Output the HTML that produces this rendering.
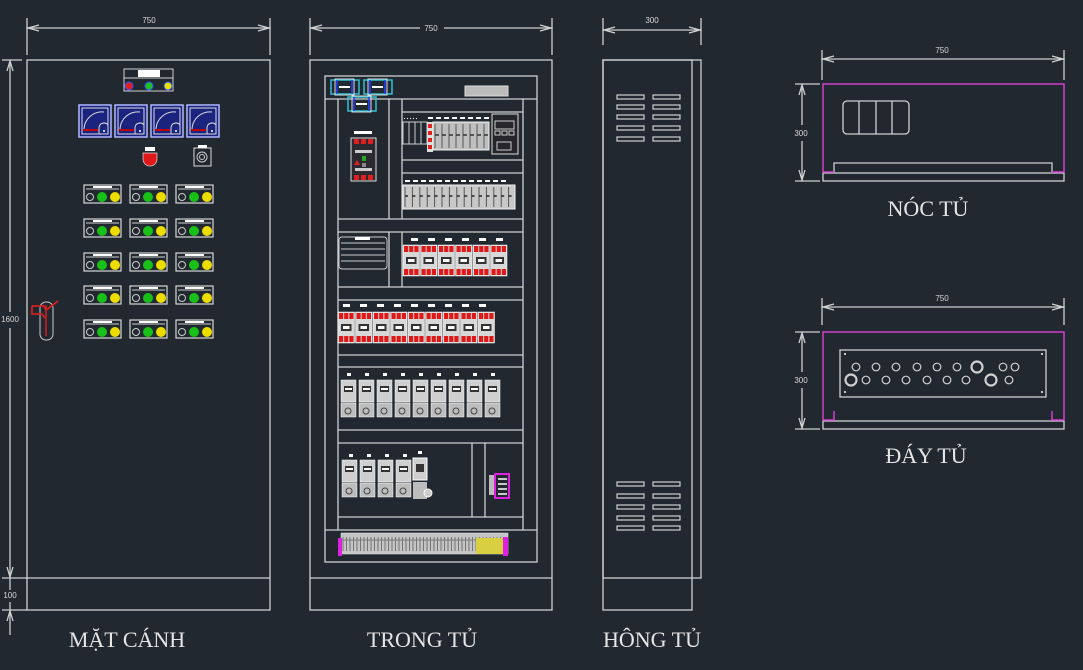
<!DOCTYPE html>
<html><head><meta charset="utf-8">
<style>
html,body{margin:0;padding:0;background:#212830;}
svg{display:block}
text{font-family:"Liberation Sans",sans-serif;fill:#d8d8d8}
.lbl{font-family:"Liberation Serif","DejaVu Serif",serif;font-size:22px;fill:#e6e6e6}
</style></head>
<body>
<svg id="s" width="1083" height="670" viewBox="0 0 1083 670" xmlns="http://www.w3.org/2000/svg">
<rect width="1083" height="670" fill="#212830"/>
<g fill="none" stroke="#d0d0d0" stroke-width="1.3">
<!-- front -->
<rect x="27" y="60" width="243" height="550"/>
<line x1="27" y1="578" x2="270" y2="578"/>
<line x1="27" y1="18" x2="27" y2="55"/><line x1="270" y1="18" x2="270" y2="55"/>
<line x1="27" y1="28" x2="270" y2="28"/>
<polyline points="39,25 28,28 39,31"/><polyline points="258,25 269,28 258,31"/>
<line x1="10" y1="60" x2="10" y2="312"/><line x1="10" y1="328" x2="10" y2="590"/>
<line x1="10" y1="602" x2="10" y2="635"/>
<line x1="2" y1="60" x2="22" y2="60"/><line x1="2" y1="578" x2="27" y2="578"/><line x1="2" y1="610" x2="27" y2="610"/>
<polyline points="7,71 10,61 13,71"/><polyline points="7,567 10,577 13,567"/><polyline points="7,621 10,611 13,621"/>
<!-- inside -->
<rect x="310" y="60" width="242" height="550"/>
<line x1="310" y1="578" x2="552" y2="578"/>
<line x1="310" y1="18" x2="310" y2="55"/><line x1="552" y1="18" x2="552" y2="55"/>
<line x1="310" y1="28" x2="420" y2="28"/><line x1="444" y1="28" x2="552" y2="28"/>
<polyline points="322,25 311,28 322,31"/><polyline points="540,25 551,28 540,31"/>
<rect x="325" y="76" width="212" height="486"/>
<line x1="325" y1="99" x2="537" y2="99"/>
<line x1="338" y1="99" x2="338" y2="530"/><line x1="523" y1="99" x2="523" y2="530"/>
<line x1="325" y1="530" x2="537" y2="530"/>
<line x1="389" y1="99" x2="389" y2="219"/><line x1="402" y1="99" x2="402" y2="219"/>
<line x1="402" y1="112" x2="523" y2="112"/><line x1="402" y1="160" x2="523" y2="160"/><line x1="402" y1="173" x2="523" y2="173"/>
<line x1="338" y1="219" x2="523" y2="219"/><line x1="338" y1="232" x2="523" y2="232"/>
<line x1="389" y1="232" x2="389" y2="287"/><line x1="402" y1="232" x2="402" y2="287"/>
<line x1="338" y1="287" x2="523" y2="287"/><line x1="338" y1="300" x2="523" y2="300"/>
<line x1="338" y1="355" x2="523" y2="355"/><line x1="338" y1="367" x2="523" y2="367"/>
<line x1="338" y1="430" x2="523" y2="430"/><line x1="338" y1="443" x2="523" y2="443"/>
<line x1="472" y1="443" x2="472" y2="517"/><line x1="485" y1="443" x2="485" y2="517"/>
<line x1="338" y1="517" x2="523" y2="517"/>
<!-- side -->
<rect x="603" y="60" width="98" height="518"/>
<rect x="603" y="60" width="89" height="550"/>
<line x1="603" y1="18" x2="603" y2="45"/><line x1="701" y1="18" x2="701" y2="45"/>
<line x1="603" y1="30" x2="701" y2="30"/>
<polyline points="615,27 604,30 615,33"/><polyline points="689,27 700,30 689,33"/>
<!-- top view -->
<line x1="822" y1="50" x2="822" y2="80"/><line x1="1064" y1="50" x2="1064" y2="80"/>
<line x1="822" y1="59" x2="1064" y2="59"/>
<polyline points="834,56 823,59 834,62"/><polyline points="1052,56 1063,59 1052,62"/>
<line x1="795" y1="84" x2="820" y2="84"/><line x1="795" y1="181" x2="820" y2="181"/>
<line x1="802" y1="84" x2="802" y2="125"/><line x1="802" y1="141" x2="802" y2="181"/>
<polyline points="799,95 802,85 805,95"/><polyline points="799,170 802,180 805,170"/>
<polyline points="834,172 834,163 1052,163 1052,172"/>
<rect x="823" y="173" width="241" height="8"/>
<rect x="843" y="101" width="66" height="33" rx="4"/>
<line x1="859" y1="101" x2="859" y2="134"/><line x1="876" y1="101" x2="876" y2="134"/><line x1="892" y1="101" x2="892" y2="134"/>
<!-- bottom view -->
<line x1="822" y1="298" x2="822" y2="325"/><line x1="1064" y1="298" x2="1064" y2="325"/>
<line x1="822" y1="307" x2="1064" y2="307"/>
<polyline points="834,304 823,307 834,310"/><polyline points="1052,304 1063,307 1052,310"/>
<line x1="795" y1="332" x2="820" y2="332"/><line x1="795" y1="429" x2="820" y2="429"/>
<line x1="802" y1="332" x2="802" y2="372"/><line x1="802" y1="388" x2="802" y2="429"/>
<polyline points="799,343 802,333 805,343"/><polyline points="799,418 802,428 805,418"/>
<rect x="823" y="421" width="241" height="8"/>
<rect x="840" y="350" width="206" height="47"/>
</g>
<g fill="none" stroke="#d040d0" stroke-width="1.5">
<polyline points="823,172 823,84 1064,84 1064,172"/>
<polyline points="823,172 834,172"/><polyline points="1052,172 1064,172"/>
<polyline points="823,420 823,332 1064,332 1064,420"/>
<polyline points="823,420 834,420 834,411"/><polyline points="1052,411 1052,420 1064,420"/>
</g>
<g id="gen"></g>
<text x="149" y="23" font-size="8" text-anchor="middle">750</text>
<text x="431" y="31" font-size="8" text-anchor="middle">750</text>
<text x="652" y="23" font-size="8" text-anchor="middle">300</text>
<text x="942" y="53" font-size="8" text-anchor="middle">750</text>
<text x="942" y="301" font-size="8" text-anchor="middle">750</text>
<text x="801" y="136" font-size="8" text-anchor="middle">300</text>
<text x="801" y="383" font-size="8" text-anchor="middle">300</text>
<text x="10" y="322" font-size="8" text-anchor="middle">1600</text>
<text x="10" y="598" font-size="8" text-anchor="middle">100</text>
<text class="lbl" x="127" y="647" text-anchor="middle">MẶT CÁNH</text>
<text class="lbl" x="422" y="647" text-anchor="middle">TRONG TỦ</text>
<text class="lbl" x="652" y="647" text-anchor="middle">HÔNG TỦ</text>
<text class="lbl" x="928" y="216" text-anchor="middle">NÓC TỦ</text>
<text class="lbl" x="926" y="463" text-anchor="middle">ĐÁY TỦ</text>
</svg>
<script>
var g=document.getElementById('gen'),h='';
function r(x,y,w,hh,f,s,sw,rx){h+='<rect x="'+x+'" y="'+y+'" width="'+w+'" height="'+hh+'" fill="'+(f||'none')+'" stroke="'+(s||'none')+'" stroke-width="'+(sw||1)+'"'+(rx?' rx="'+rx+'"':'')+'/>';}
function c(x,y,rr,f,s,sw){h+='<circle cx="'+x+'" cy="'+y+'" r="'+rr+'" fill="'+(f||'none')+'" stroke="'+(s||'none')+'" stroke-width="'+(sw||1)+'"/>';}
function l(a,b,cc,d,s,sw){h+='<line x1="'+a+'" y1="'+b+'" x2="'+cc+'" y2="'+d+'" stroke="'+(s||'#d0d0d0')+'" stroke-width="'+(sw||1)+'"/>';}
// front top indicator
r(124,69,49,22,'none','#d0d0d0',1);r(138,70,22,7,'#fff');l(124,78,173,78);
c(129,86,4,'#e02020','#3050ff');c(149,86,4,'#20c020','#3050ff');c(168,86,4,'#e8e000','#3050ff');
// meters
[79,115,151,187].forEach(function(x){r(x,105,32,32,'#1a237e','#b0b8ff',1.5);r(x+3,108,26,26,'none','#ddd',1);
h+='<path d="M'+(x+5)+','+(x?130:0)+' A18,18 0 0 1 '+(x+25)+',112" fill="none" stroke="#ddd" stroke-width="1"/>';
r(x+4,129,15,2,'#c00000');h+='<path d="M'+(x+20)+',134 v-6 a5,5 0 0 1 9,-3 v9z" fill="none" stroke="#ddd"/>';c(x+25,131,1,'#fff');});
// red mushroom
r(145,147,10,4,'#fff');h+='<path d="M143,153 h14 v6 a7,7 0 0 1 -14,0z" fill="#e01818" stroke="#ddd" stroke-width="0.7"/>';
r(194,148,17,18,'none','#ddd');r(198,145,9,3,'#fff');c(202,157,5,'none','#ccc');c(202,157,2.5,'none','#ccc');
// button groups
[84,130,176].forEach(function(x){[185,219,253,286,320].forEach(function(y){
r(x,y,37,18,'none','#d8d8d8',1.2);l(x+2,y+4,x+35,y+4);r(x+9,y+1,19,2,'#fff');
c(x+6,y+12,3.5,'none','#ccc');c(x+18,y+12,5,'#18c018');c(x+31,y+12,5,'#ecdc00');});});
// door handle
r(40,302,13,38,'none','#ccc',1,6);h+='<path d="M32,306 h12 l2,4 l12,-9 M32,306 v8 h10 l3,4" fill="none" stroke="#d02020" stroke-width="1.8"/>';l(46,305,46,336,'#d02020',1.5);
// inside: top contactors
[[331,80],[364,80],[348,97]].forEach(function(p){r(p[0],p[1],28,14,'none','#30c0d0',1.5);r(p[0]+4,p[1]-1,19,16,'none','#ddd');l(p[0]+6,p[1],p[0]+6,p[1]+14,'#2040ff',1.5);l(p[0]+21,p[1],p[0]+21,p[1]+14,'#2040ff',1.5);r(p[0]+8,p[1]+6,11,2,'#fff');});
r(465,86,43,10,'#bbb','#ddd');
// MCCB
r(354,131,18,3,'#fff');r(351,138,25,43,'#2a2a30','#ddd');
for(var i=0;i<3;i++){r(354+i*7,139,5,5,'#e02020');r(354+i*7,175,5,5,'#e02020');}
r(355,150,17,3,'#ccc');r(362,156,4,5,'#2a2');r(362,163,4,4,'#888');h+='<path d="M354,165 l3,-5 l3,5z" fill="#e02020"/>';r(355,168,17,3,'#ccc');
// row1 small devices
for(i=0;i<5;i++)r(404+i*3,118,1,1,'#fff');
for(i=0;i<8;i++)r(428+i*8,117,5,2,'#fff');
r(403,122,24,22,'none','#ccc');for(i=0;i<4;i++)l(403+i*6,122,403+i*6,144,'#ccc');
r(427,122,6,30,'#ddd');for(i=0;i<4;i++)r(428,124+i*7,4,4,'#e02020');
r(433,122,56,28,'#bfbfbf','#eee');for(i=0;i<8;i++){l(435+i*7,124,435+i*7,148,'#555');l(435+i*7,135,439+i*7,135,'#333',1.5);}
r(492,114,26,40,'#26262a','#ddd');r(495,121,19,8,'none','#ccc');for(i=0;i<3;i++)r(495+i*7,131,5,4,'none','#ccc');r(497,142,14,8,'none','#ccc');
// row2 dense
for(i=0;i<13;i++)r(405+i*8,180,5,2,'#fff');
r(403,185,112,24,'#c8c8c8','#eee');for(i=0;i<15;i++){l(405+i*7.4,187,405+i*7.4,207,'#555');l(405+i*7.4,196,408+i*7.4,196,'#222',1.5);}
// meter block
r(339,237,48,32,'none','#ccc',1,3);for(i=0;i<4;i++)l(341,243+i*6,385,243+i*6,'#ccc');r(355,237,15,3,'#fff');
// breaker rows
function brk(x0,y0,n,w){for(var k=0;k<n;k++){var x=x0+k*w;r(x,y0,w-1,31,'#d8d8d8','#fff',0.5);
for(var j=0;j<3;j++){r(x+1+j*(w-2)/3,y0+1,(w-2)/3-1,6,'#e01818');r(x+1+j*(w-2)/3,y0+24,(w-2)/3-1,6,'#e01818');}
r(x+3,y0+12,w-7,7,'#333');r(x+5,y0+14,w-11,3,'#fff');}}
for(i=0;i<6;i++)r(411+i*17,238,7,3,'#fff');brk(403,245,6,17.5);
for(i=0;i<9;i++)r(343+i*17,304,7,3,'#fff');brk(338,312,9,17.5);
// contactors
function ct(x,y){r(x,y,15,22,'#cfcfcf','#fff',0.5);r(x+3,y+6,9,6,'#333');r(x+4,y+8,7,2,'#fff');r(x,y+23,15,14,'#bdbdbd','#fff',0.5);c(x+7,y+31,3,'none','#444');}
for(i=0;i<9;i++){r(347+i*18,373,4,3,'#fff');ct(341+i*18,380);}
for(i=0;i<4;i++){r(349+i*18,454,4,3,'#fff');ct(342+i*18,460);}
r(418,451,4,3,'#fff');r(413,458,14,22,'#cfcfcf','#fff');r(416,464,8,8,'#333');r(413,482,14,17,'#bdbdbd');c(428,493,4,'#ccc','#fff');
// small relay right
r(489,475,5,20,'#bbb');r(495,474,14,24,'none','#e020e0',2);for(i=0;i<4;i++)l(498,479+i*5,507,479+i*5,'#fff',1.5);
// terminal strip
r(341,533,167,21,'#c4c4c4','#eee',0.5);for(i=0;i<46;i++)l(343+i*3.5,537,343+i*3.5,551,'#555',0.7);l(341,540,508,540,'#777');
r(476,538,28,16,'#d8d040');r(338,538,4,18,'#e020e0');r(503,537,5,19,'#e020e0');
// side vents
[[97,107,117,128,139],[484,496,507,518,528]].forEach(function(ys){ys.forEach(function(y){r(617,y-2,27,4,'none','#d0d0d0',1.2);r(653,y-2,27,4,'none','#d0d0d0',1.2);});});
// holes
[856,876,896,917,937,957,1003,1015].forEach(function(x){c(x,367,3.8,'none','#d0d0d0',1.2);});c(977,367,5.5,'none','#d0d0d0',2.2);
[866,886,906,927,947,966,1009].forEach(function(x){c(x,380,3.8,'none','#d0d0d0',1.2);});c(851,380,5.5,'none','#d0d0d0',2.2);c(991,380,5.5,'none','#d0d0d0',2.2);
[[845,354],[1042,354],[845,392],[1042,392]].forEach(function(p){c(p[0],p[1],1,'#fff');});
g.innerHTML=h;
</script>
</body></html>
